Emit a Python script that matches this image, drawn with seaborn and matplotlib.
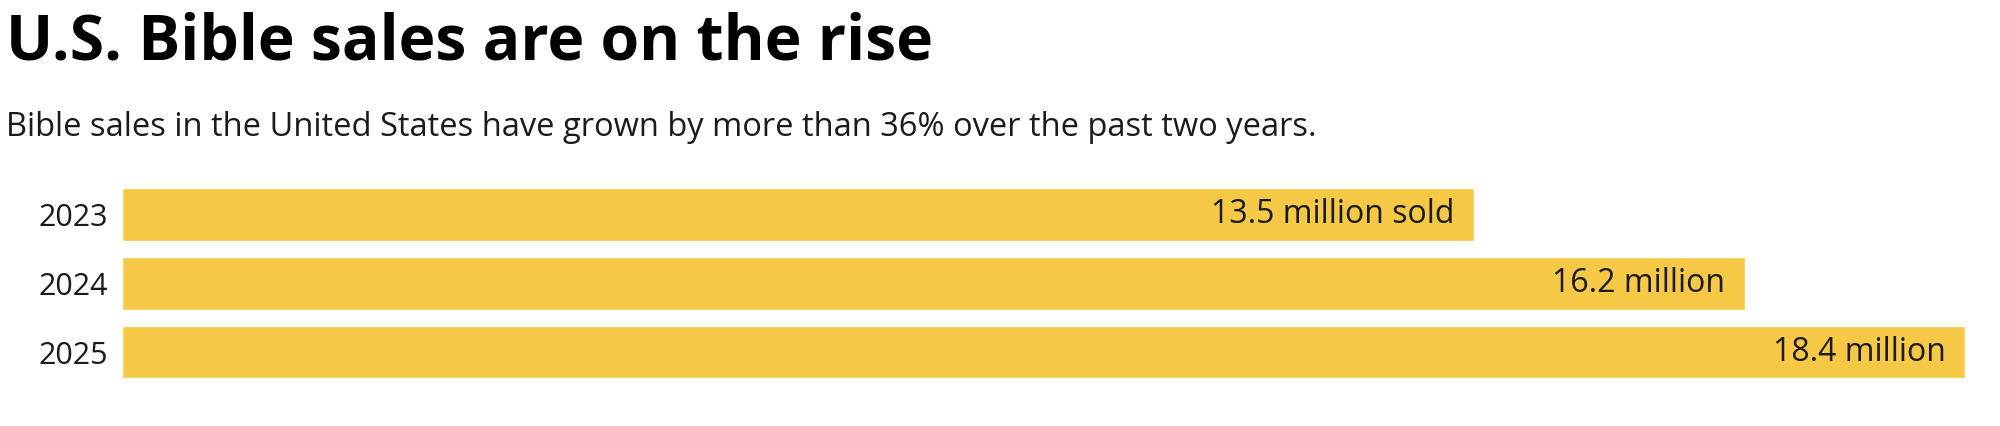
import pandas as pd
import seaborn as sns
import matplotlib.pyplot as plt

# Data
years = ['2023', '2024', '2025']
sales = [13.5, 16.2, 18.4]
labels = ['13.5 million sold', '16.2 million', '18.4 million']

title = 'U.S. Bible sales are on the rise'
subtitle = 'Bible sales in the United States have grown by more than 36% over the past two years.'

sns.set_style('white')
plt.rcParams['font.family'] = ['Open Sans', 'DejaVu Sans']

bar_color = '#F5C945'
text_color = '#1a1a1a'

df = pd.DataFrame({'Year': years, 'Sales': sales})

fig = plt.figure(figsize=(20, 4.26), dpi=100)
ax = fig.add_axes([0.061, 0.093, 0.939, 0.484])

sns.barplot(data=df, x='Sales', y='Year', orient='h', color=bar_color,
            saturation=1, width=0.77, ax=ax)

# value labels inside the bar ends
for i, (v, lab) in enumerate(zip(sales, labels)):
    ax.annotate(lab, xy=(v, i), xytext=(-14, 0), textcoords='offset points',
                ha='right', va='center', fontsize=23, color=text_color)

ax.set_xlim(0, 18.75)
ax.set_ylim(2.5, -0.5)
ax.set_xlabel('')
ax.set_ylabel('')
ax.set_xticks([])
ax.tick_params(axis='y', length=0, pad=10, labelsize=22, labelcolor=text_color)
sns.despine(ax=ax, left=True, bottom=True)

fig.text(0.003, 1 - 60 / 426, title, fontsize=45, fontweight='bold',
         color='black', va='baseline', ha='left')
fig.text(0.003, 1 - 136 / 426, subtitle, fontsize=23.5, color=text_color,
         va='baseline', ha='left')

fig.savefig('out.png', dpi=100, facecolor='white')
